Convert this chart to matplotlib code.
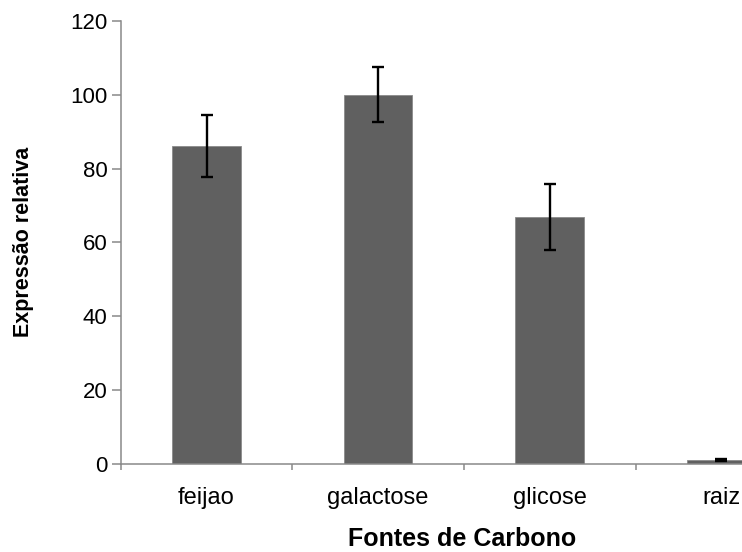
import numpy as np
import matplotlib.pyplot as plt

# Dados: expressão relativa por fonte de carbono
fontes = ["feijao", "galactose", "glicose", "raiz"]
expressao = [86.2, 100.0, 66.8, 1.0]
erro = [8.4, 7.4, 8.9, 0.4]

plt.rcParams['font.family'] = ['Liberation Sans', 'DejaVu Sans']

fig = plt.figure(figsize=(7.42, 5.52), dpi=100)
# eixo mais largo que a figura: a última categoria fica cortada à direita
ax = fig.add_axes([120.7 / 742, 88.3 / 552, 686.4 / 742, 442.7 / 552])

x = np.arange(len(fontes))
ax.bar(x, expressao, width=0.4, color='#606060', edgecolor='#8a8a8a', linewidth=0.6,
       zorder=2)
ax.errorbar(x, expressao, yerr=erro, fmt='none', ecolor='black', elinewidth=1.7,
            capsize=4.0, capthick=1.7, zorder=3)

ax.set_xlim(-0.5, 3.5)
ax.set_ylim(0, 120)
ax.set_yticks(np.arange(0, 121, 20))

# rótulos no centro das barras, marcas nas divisões entre categorias
ax.set_xticks(x)
ax.set_xticklabels(fontes, fontsize=17)
ax.set_xticks(np.arange(-0.5, 4.0, 1.0), minor=True)
ax.tick_params(axis='x', which='major', length=0, pad=17)
ax.tick_params(axis='x', which='minor', length=4.5, width=1.1, color='#898989',
               direction='out')
ax.tick_params(axis='y', length=6.5, width=1.1, color='#898989', direction='out',
               pad=3, labelsize=16)

for lado in ['top', 'right']:
    ax.spines[lado].set_visible(False)
for lado in ['left', 'bottom']:
    ax.spines[lado].set_color('#898989')
    ax.spines[lado].set_linewidth(1.1)

ax.set_ylabel("Expressão relativa", fontsize=15.5, fontweight='bold', labelpad=26)
fig.text(462 / 742, 1 - 527 / 552, "Fontes de Carbono", fontsize=18, fontweight='bold',
         ha='center', va='top')

fig.savefig("out.png", dpi=100)
